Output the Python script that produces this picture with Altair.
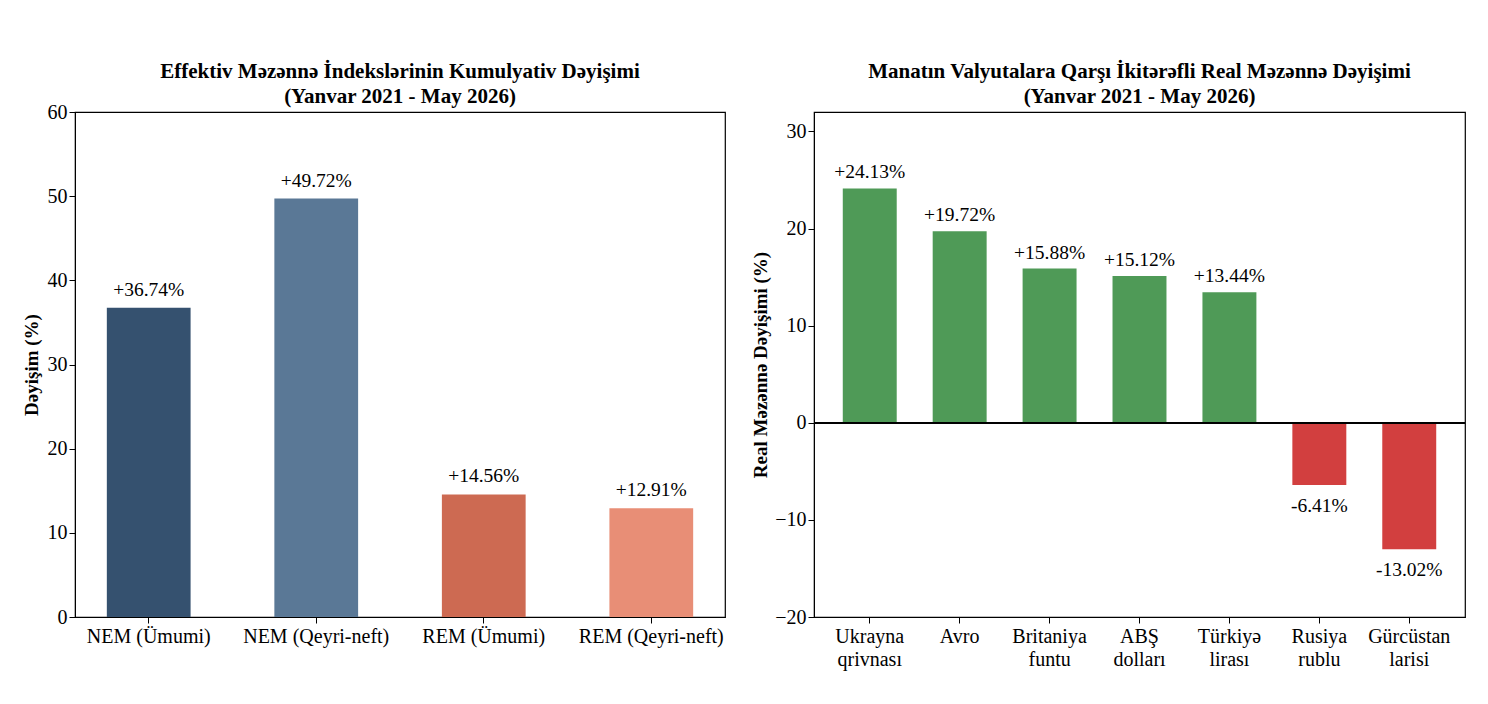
import altair as alt
import pandas as pd

FONT = "Liberation Serif"

# Cumulative change of the effective exchange-rate indices
index_names = ["NEM (Ümumi)", "NEM (Qeyri-neft)", "REM (Ümumi)", "REM (Qeyri-neft)"]
index_change = [36.74, 49.72, 14.56, 12.91]
index_colors = ["#35516f", "#5a7896", "#cd6a52", "#e88e76"]

# Bilateral real exchange-rate change of the manat
currency_names = ["Ukrayna qrivnası", "Avro", "Britaniya funtu", "ABŞ dolları",
                  "Türkiyə lirası", "Rusiya rublu", "Gürcüstan larisi"]
currency_change = [24.13, 19.72, 15.88, 15.12, 13.44, -6.41, -13.02]
POS_COLOR = "#4f9a57"
NEG_COLOR = "#d23f3f"


def fmt(v):
    return f"+{v:.2f}%" if v >= 0 else f"{v:.2f}%"


left_df = pd.DataFrame({
    "name": index_names,
    "value": index_change,
    "color": index_colors,
    "label": [fmt(v) for v in index_change],
})

right_df = pd.DataFrame({
    "name": currency_names,
    "value": currency_change,
    "color": [POS_COLOR if v >= 0 else NEG_COLOR for v in currency_change],
    "label": [fmt(v) for v in currency_change],
})

axis_common = dict(
    labelFont=FONT, labelFontSize=20, labelColor="black",
    titleFont=FONT, titleFontSize=19, titleFontWeight="bold", titleColor="black",
    tickColor="black", tickSize=6, domainColor="black", grid=False,
)

# ---- left panel ----
lx = alt.X("name:N", sort=index_names, title=None,
           scale=alt.Scale(paddingInner=0.5, paddingOuter=0.19),
           axis=alt.Axis(labelAngle=0, labelPadding=3, **axis_common))
ly = alt.Y("value:Q", title="Dəyişim (%)",
           scale=alt.Scale(domain=[0, 60], nice=False),
           axis=alt.Axis(values=[0, 10, 20, 30, 40, 50, 60], titlePadding=6,
                         labelPadding=2, **axis_common))

left_base = alt.Chart(left_df)
left_bars = left_base.mark_bar().encode(
    x=lx, y=ly, color=alt.Color("color:N", scale=None))
left_text = left_base.mark_text(baseline="bottom", dy=-8, font=FONT,
                                fontSize=19.5, color="black").encode(
    x=alt.X("name:N", sort=index_names), y="value:Q", text="label:N")

left = alt.layer(left_bars, left_text).properties(
    width=650, height=505,
    title=alt.TitleParams(
        ["Effektiv Məzənnə İndekslərinin Kumulyativ Dəyişimi",
         "(Yanvar 2021 - May 2026)"],
        font=FONT, fontSize=21, fontWeight="bold", color="black",
        anchor="middle", frame="group", offset=-5, lineHeight=25),
)

# ---- right panel ----
rx = alt.X("name:N", sort=currency_names, title=None,
           scale=alt.Scale(paddingInner=0.4, paddingOuter=0.32),
           axis=alt.Axis(labelAngle=0, labelPadding=3, labelLineHeight=23,
                         labelExpr="split(datum.label, ' ')", **axis_common))
ry = alt.Y("value:Q", title="Real Məzənnə Dəyişimi (%)",
           scale=alt.Scale(domain=[-20, 32], nice=False, zero=False),
           axis=alt.Axis(values=[-20, -10, 0, 10, 20, 30], titlePadding=4,
                         labelPadding=2, **axis_common))

right_base = alt.Chart(right_df)
right_bars = right_base.mark_bar().encode(
    x=rx, y=ry, y2=alt.datum(0), color=alt.Color("color:N", scale=None))
zero_line = alt.Chart(right_df).mark_rule(color="black", strokeWidth=1.3).encode(
    y=alt.datum(0))
pos_text = right_base.transform_filter("datum.value >= 0").mark_text(
    baseline="bottom", dy=-6, font=FONT, fontSize=19.5, color="black").encode(
    x=alt.X("name:N", sort=currency_names), y="value:Q", text="label:N")
neg_text = right_base.transform_filter("datum.value < 0").mark_text(
    baseline="top", dy=12, font=FONT, fontSize=19.5, color="black").encode(
    x=alt.X("name:N", sort=currency_names), y="value:Q", text="label:N")

right = alt.layer(right_bars, zero_line, pos_text, neg_text).properties(
    width=651, height=505,
    title=alt.TitleParams(
        ["Manatın Valyutalara Qarşı İkitərəfli Real Məzənnə Dəyişimi",
         "(Yanvar 2021 - May 2026)"],
        font=FONT, fontSize=21, fontWeight="bold", color="black",
        anchor="middle", frame="group", offset=5, lineHeight=25),
)

chart = alt.hconcat(left, right, spacing=25).properties(
    padding={"left": 21, "top": 60, "right": 10, "bottom": 10},
    background="white",
).configure_view(stroke="black", strokeWidth=1.2)

chart.save("out.html", embed_options={"renderer": "svg", "actions": False})
